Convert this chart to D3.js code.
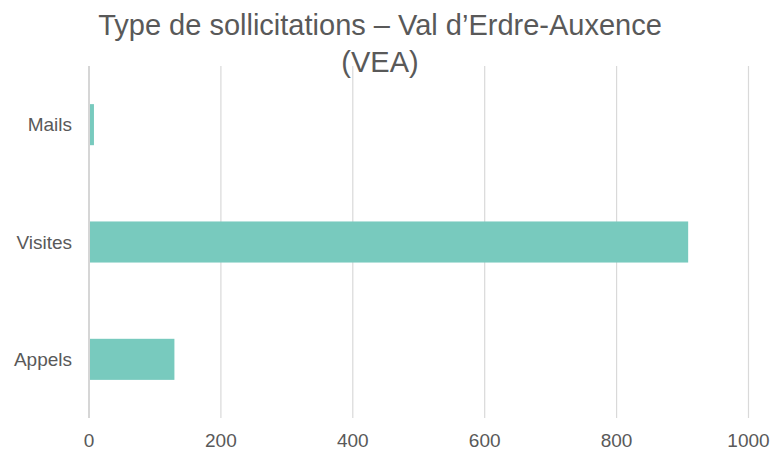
<!DOCTYPE html>
<html>
<head>
<meta charset="utf-8">
<script src="https://cdn.jsdelivr.net/npm/d3@7"></script>
<style>
  body { margin: 0; background: #fff; }
  text { font-family: "Liberation Sans", Arial, sans-serif; fill: #595959; }
</style>
</head>
<body>
<div id="chart"></div>
<script>
const categories = ["Mails", "Visites", "Appels"];
const values = [6, 907, 128];
const xTicks = [0, 200, 400, 600, 800, 1000];
const titleLines = ["Type de sollicitations \u2013 Val d\u2019Erdre-Auxence", "(VEA)"];

const width = 773, height = 451;
const margin = { top: 66, right: 25, bottom: 33, left: 89 };

const data = categories.map((c, i) => ({ name: c, value: values[i] }));

const svg = d3.select("#chart").append("svg")
  .attr("width", width)
  .attr("height", height);

const x = d3.scaleLinear()
  .domain([0, 1000])
  .range([margin.left, 748.5]);

const y = d3.scaleBand()
  .domain(categories)
  .range([margin.top, height - margin.bottom])
  .paddingInner(0.65)
  .paddingOuter(0.325);

// vertical gridlines
svg.append("g")
  .selectAll("line")
  .data(xTicks)
  .enter()
  .append("line")
  .attr("x1", d => x(d))
  .attr("x2", d => x(d))
  .attr("y1", margin.top)
  .attr("y2", height - margin.bottom)
  .attr("stroke", d => d === 0 ? "#c8c8c8" : "#d9d9d9")
  .attr("stroke-width", d => d === 0 ? 1.5 : 1.2);

// bars
svg.append("g")
  .selectAll("rect")
  .data(data)
  .enter()
  .append("rect")
  .attr("x", x(0) + 1)
  .attr("y", d => y(d.name))
  .attr("width", d => x(d.value) - x(0))
  .attr("height", y.bandwidth())
  .attr("fill", "#78cabe");

// category labels
svg.append("g")
  .selectAll("text")
  .data(categories)
  .enter()
  .append("text")
  .attr("x", 72)
  .attr("y", d => y(d) + y.bandwidth() / 2)
  .attr("dy", "0.35em")
  .attr("text-anchor", "end")
  .style("font-size", "19px")
  .text(d => d);

// x tick labels
svg.append("g")
  .selectAll("text")
  .data(xTicks)
  .enter()
  .append("text")
  .attr("x", d => x(d))
  .attr("y", 446.5)
  .attr("text-anchor", "middle")
  .style("font-size", "19px")
  .text(d => d);

// title
svg.append("text")
  .attr("x", 380)
  .attr("y", 35)
  .attr("text-anchor", "middle")
  .style("font-size", "29px")
  .selectAll("tspan")
  .data(titleLines)
  .enter()
  .append("tspan")
  .attr("x", 380)
  .attr("dy", (d, i) => i === 0 ? 0 : 36.5)
  .text(d => d);
</script>
</body>
</html>
